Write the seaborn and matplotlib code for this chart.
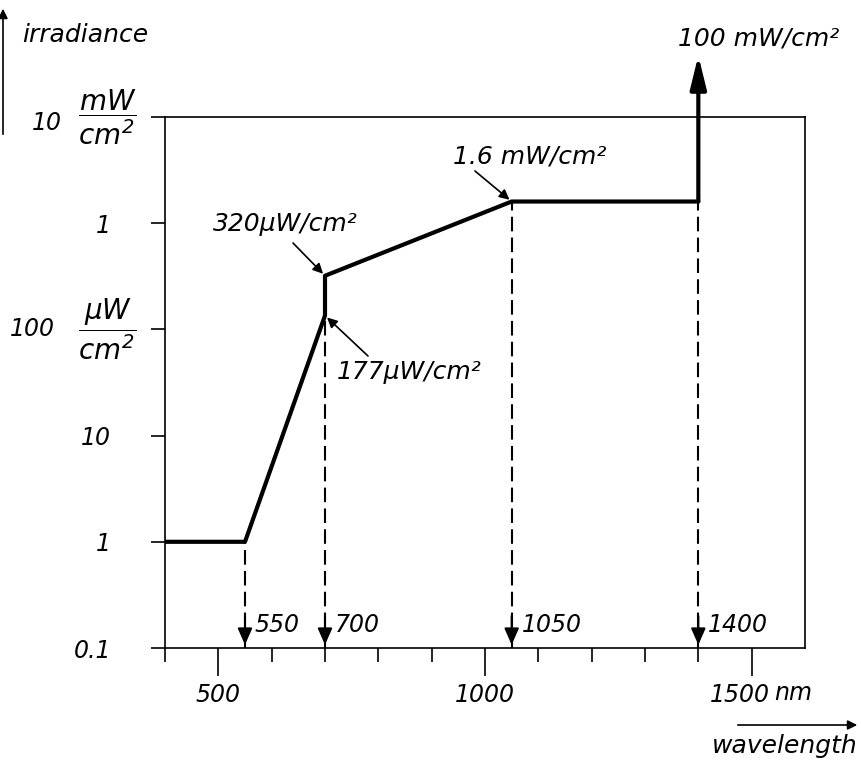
import matplotlib
matplotlib.use("Agg")
import matplotlib.pyplot as plt
import seaborn as sns
from matplotlib.ticker import FixedLocator, NullLocator
from matplotlib.transforms import ScaledTranslation

# irradiance limit curve, values in µW/cm²
wavelength = [400, 550, 700, 700, 1050, 1400]
irradiance = [1, 1, 135, 320, 1600, 1600]
peak_irradiance = 38000  # arrow tip towards 100 mW/cm²

drop_x = [550, 700, 1050, 1400]
drop_top = [1, 135, 1600, 1600]
drop_labels = ["550", "700", "1050", "1400"]

ytick_vals = [0.1, 1, 10, 100, 1000, 10000]
ytick_text = ["0.1", "1", "10", "", "1", ""]
xtick_major = [500, 1000, 1500]
xtick_major_text = ["500", "1000", "1500"]
xtick_minor = [400, 600, 700, 800, 900, 1100, 1200, 1300, 1400]

W, H = 861, 760


def px(x, y):
    # figure pixel (from top-left) -> figure fraction
    return x / W, 1 - y / H


sns.set_theme(style="ticks")
plt.rcParams.update(
    {
        "font.family": ["DejaVu Sans"],
        "font.style": "italic",
        "mathtext.fontset": "dejavusans",
        "text.color": "black",
        "axes.edgecolor": "black",
        "axes.linewidth": 1.2,
        "xtick.color": "black",
        "ytick.color": "black",
        "xtick.direction": "out",
        "ytick.direction": "out",
    }
)

fig = plt.figure(figsize=(W / 100, H / 100), dpi=100)
ax = fig.add_axes([165 / W, 1 - 648 / H, 640 / W, 531 / H])

sns.lineplot(x=wavelength, y=irradiance, sort=False, estimator=None,
             color="black", linewidth=3, ax=ax)
ax.set_yscale("log")
ax.set_xlim(400, 1600)
ax.set_ylim(0.1, 1e4)
ax.set_xlabel("")
ax.set_ylabel("")

# vertical rise at 1400 nm going out of the frame
ax.annotate("", xy=(1400, peak_irradiance), xytext=(wavelength[-1], irradiance[-1]),
            arrowprops=dict(arrowstyle="-|>,head_length=0.9,head_width=0.22", lw=3,
                            color="black", mutation_scale=22, shrinkA=0, shrinkB=0),
            annotation_clip=False)
fig.text(*px(678, 39), "100 mW/cm²", fontsize=18, ha="left", va="center")

# dashed drop lines with arrowheads
ax.vlines(drop_x, 0.1, drop_top, colors="black", linewidth=1.5, linestyles=[(0, (7, 3))])
for x, lbl in zip(drop_x, drop_labels):
    ax.annotate("", xy=(x, 0.107), xytext=(x, 0.2),
                arrowprops=dict(arrowstyle="-|>,head_length=0.5,head_width=0.22",
                                color="black", lw=1.5, mutation_scale=20,
                                shrinkA=0, shrinkB=0))
    ax.annotate(lbl, xy=(x, 0.1), xytext=(10, 23), textcoords="offset pixels",
                ha="left", va="center", fontsize=17)

# point annotations
notes = [
    ("320µW/cm²", (213, 224), (293, 243), (700, 320)),
    ("177µW/cm²", (337, 372), (368, 356), (700, 135)),
    ("1.6 mW/cm²", (453, 156), (475, 171), (1050, 1600)),
]
for txt, tpos, tail, point in notes:
    fig.text(*px(*tpos), txt, fontsize=18, ha="left", va="center")
    ax.annotate("", xy=point, xytext=(tail[0], H - tail[1]), textcoords="figure pixels",
                arrowprops=dict(arrowstyle="-|>", color="black", lw=1.2,
                                mutation_scale=15, shrinkA=0, shrinkB=2))

# y axis ticks
ax.set_yticks(ytick_vals)
ax.set_yticklabels(ytick_text, fontsize=17)
ax.yaxis.set_minor_locator(NullLocator())
ax.tick_params(axis="y", length=10, width=1.2, pad=29)
ax.annotate("100", xy=(0, 100), xycoords=("axes fraction", "data"), xytext=(-110, 0),
            textcoords="offset pixels", ha="right", va="center", fontsize=17)
ax.annotate(r"$\dfrac{\mu W}{cm^2}$", xy=(0, 100), xycoords=("axes fraction", "data"),
            xytext=(-58, 0), textcoords="offset pixels", ha="center", va="center", fontsize=20)
ax.annotate("10", xy=(0, 10000), xycoords=("axes fraction", "data"), xytext=(-103, -6),
            textcoords="offset pixels", ha="right", va="center", fontsize=17)
ax.annotate(r"$\dfrac{mW}{cm^2}$", xy=(0, 10000), xycoords=("axes fraction", "data"),
            xytext=(-58, 0), textcoords="offset pixels", ha="center", va="center", fontsize=20)

# x axis ticks
ax.set_xticks(xtick_major)
ax.set_xticklabels(xtick_major_text, fontsize=17)
ax.xaxis.set_minor_locator(FixedLocator(xtick_minor))
ax.tick_params(axis="x", which="major", length=20, width=1.2, pad=5)
ax.tick_params(axis="x", which="minor", length=10, width=1.2)
last = ax.get_xticklabels()[-1]
last.set_transform(last.get_transform() + ScaledTranslation(-0.12, 0, fig.dpi_scale_trans))
fig.text(*px(774, 700), "nm", fontsize=17, ha="left", va="baseline")

# axis titles with arrows
fig.text(*px(22, 35), "irradiance", fontsize=18, ha="left", va="center")
fig.add_artist(matplotlib.patches.FancyArrowPatch(
    px(3, 137), px(3, 6), transform=fig.transFigure, arrowstyle="-|>",
    mutation_scale=14, lw=1.2, color="black"))
fig.text(*px(712, 746), "wavelength", fontsize=18, ha="left", va="center")
fig.add_artist(matplotlib.patches.FancyArrowPatch(
    px(735, 725), px(860, 725), transform=fig.transFigure, arrowstyle="-|>",
    mutation_scale=14, lw=1.2, color="black"))

fig.savefig("out.png", dpi=100)
